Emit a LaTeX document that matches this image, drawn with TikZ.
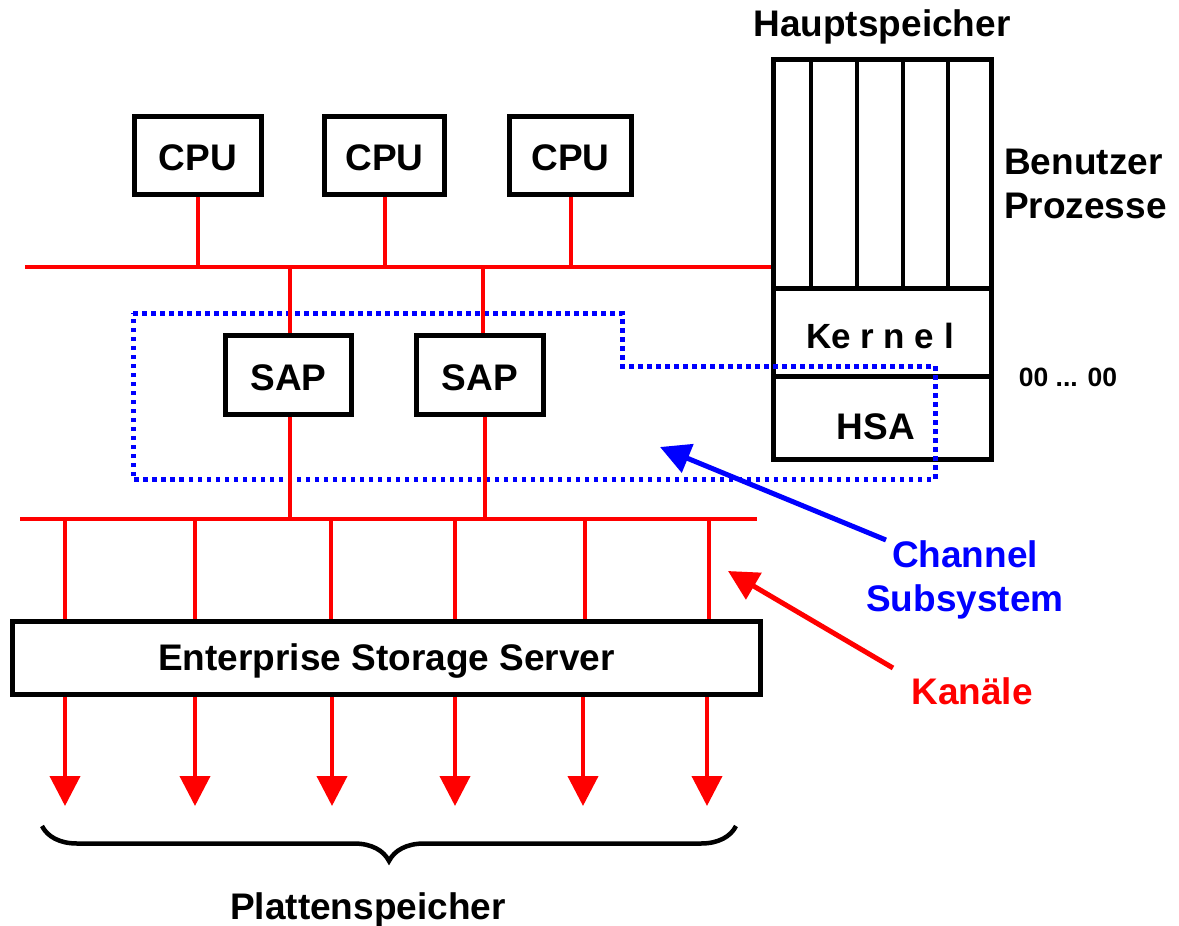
\documentclass[tikz,border=0pt]{standalone}
\usepackage{fontspec}
\setmainfont{Liberation Sans}
\usetikzlibrary{arrows.meta,decorations.pathreplacing}
\definecolor{pred}{RGB}{255,0,0}
\definecolor{pblue}{RGB}{0,0,255}
\newcommand\lblfont{\fontsize{37}{44}\selectfont\bfseries}
\newcommand\kernfont{\fontsize{35}{40}\selectfont\bfseries}
\newcommand\smallfont{\fontsize{26.5}{30}\selectfont\bfseries}
\tikzset{
  box/.style={draw, line width=5pt, inner sep=0pt, font=\lblfont, fill=white},
  boxtext/.style={font=\lblfont, inner sep=0pt},
  redline/.style={pred, line width=4pt},
  redarrow/.style={pred, line width=4pt, -{Triangle[width=30pt,length=30pt]}},
  pointer/.style={line width=5pt, -{Triangle[width=30pt,length=30pt]}},
  csdots/.style={pblue, line width=5pt, dash pattern=on 4.5pt off 4.5pt},
  label/.style={font=\lblfont, inner sep=0pt, yshift=-3pt},
}
\begin{document}
\begin{tikzpicture}[x=1pt,y=-1pt]
\useasboundingbox (0,0) rectangle (1179,926);

% main memory block
\node[box, minimum width=218pt, minimum height=400pt] (mem) at (882.5,259.5) {};
\foreach \x in {811,857,903,948}
  \draw[line width=4.5pt] (\x,0 |- mem.north) -- (\x,288);
\draw[line width=5pt] (mem.west |- 0,288) -- (mem.east |- 0,288);
\draw[line width=5pt] (mem.west |- 0,376) -- (mem.east |- 0,376);
\node[label, font=\kernfont] (kernel) at (880,333) {Ke r n e l};
\node[label] (hsa) at (876,424) {HSA};
\node[label] (haupt) at (882,24) {Hauptspeicher};
\node[label, anchor=west, align=left] (benutzer) at (1004,181) {Benutzer\\Prozesse};
\node[font=\smallfont, inner sep=0pt] (zeros) at (1068,377) {00 ... 00};

% channel subsystem boundary
\draw[csdots] (133,313) -- (622,313) -- (622,366) -- (935,366) -- (935,479) -- (133,479) -- cycle;

% processors and system bus
\node[box, minimum width=127pt, minimum height=78pt] (cpu1) at (198,155) {};
\node[box, minimum width=120pt, minimum height=78pt] (cpu2) at (384.5,155) {};
\node[box, minimum width=122pt, minimum height=78pt] (cpu3) at (570.5,155) {};
\foreach \c in {cpu1,cpu2,cpu3}
  \node[label] (\c-text) at (\c.center) {CPU};
\coordinate (busL) at (25,267);
\draw[redline] (busL) -- (busL -| mem.west);
\foreach \c in {cpu1,cpu2,cpu3}
  \draw[redline] (\c.south) -- (\c.south |- busL);

% system assist processors
\node[box, minimum width=126pt, minimum height=79pt] (sap1) at (288.5,375) {};
\node[box, minimum width=127pt, minimum height=79pt] (sap2) at (480,375) {};
\foreach \c in {sap1,sap2}
  \node[label] (\c-text) at (\c.center) {SAP};
\coordinate (bus2L) at (20,519);
\coordinate (bus2R) at (757,519);
\draw[redline] (bus2L) -- (bus2R);
\draw[redline] (290,0 |- busL) -- (290,0 |- sap1.north);
\draw[redline] (483,0 |- busL) -- (483,0 |- sap2.north);
\draw[redline] (290,0 |- sap1.south) -- (290,0 |- bus2L);
\draw[redline] (485,0 |- sap2.south) -- (485,0 |- bus2L);

% storage server and channels
\node[box, minimum width=748pt, minimum height=73pt] (ess) at (386.5,658) {};
\node[label] (ess-text) at (ess.center) {Enterprise Storage Server};
\coordinate (tips) at (0,806);
\foreach \x in {65,195,331,455,585,709}
  \draw[redline] (\x,0 |- bus2L) -- (\x,0 |- ess.north);
\foreach \x in {65,195,332,455,583,707}
  \draw[redarrow] (\x,0 |- ess.south) -- (\x,0 |- tips);

% disk storage brace
\coordinate (brL) at (42,826);
\coordinate (brR) at (736,826);
\draw[line width=4.5pt, decorate, decoration={brace, mirror, amplitude=35pt, aspect=0.5}] (brL) -- (brR);
\node[label] (platten) at (368,907) {Plattenspeicher};

% annotations
\node[label, text=pblue, align=center] (chs) at (965,577) {Channel\\Subsystem};
\coordinate (chsTip) at (660,447);
\coordinate (chsStart) at (886,540);
\draw[pointer, pblue] (chsStart) -- (chsTip);
\node[label, text=pred] (kan) at (972,688) {Kanäle};
\coordinate (kanTip) at (728,571);
\coordinate (kanStart) at (893,668);
\draw[pointer, pred] (kanStart) -- (kanTip);
\end{tikzpicture}
\end{document}
